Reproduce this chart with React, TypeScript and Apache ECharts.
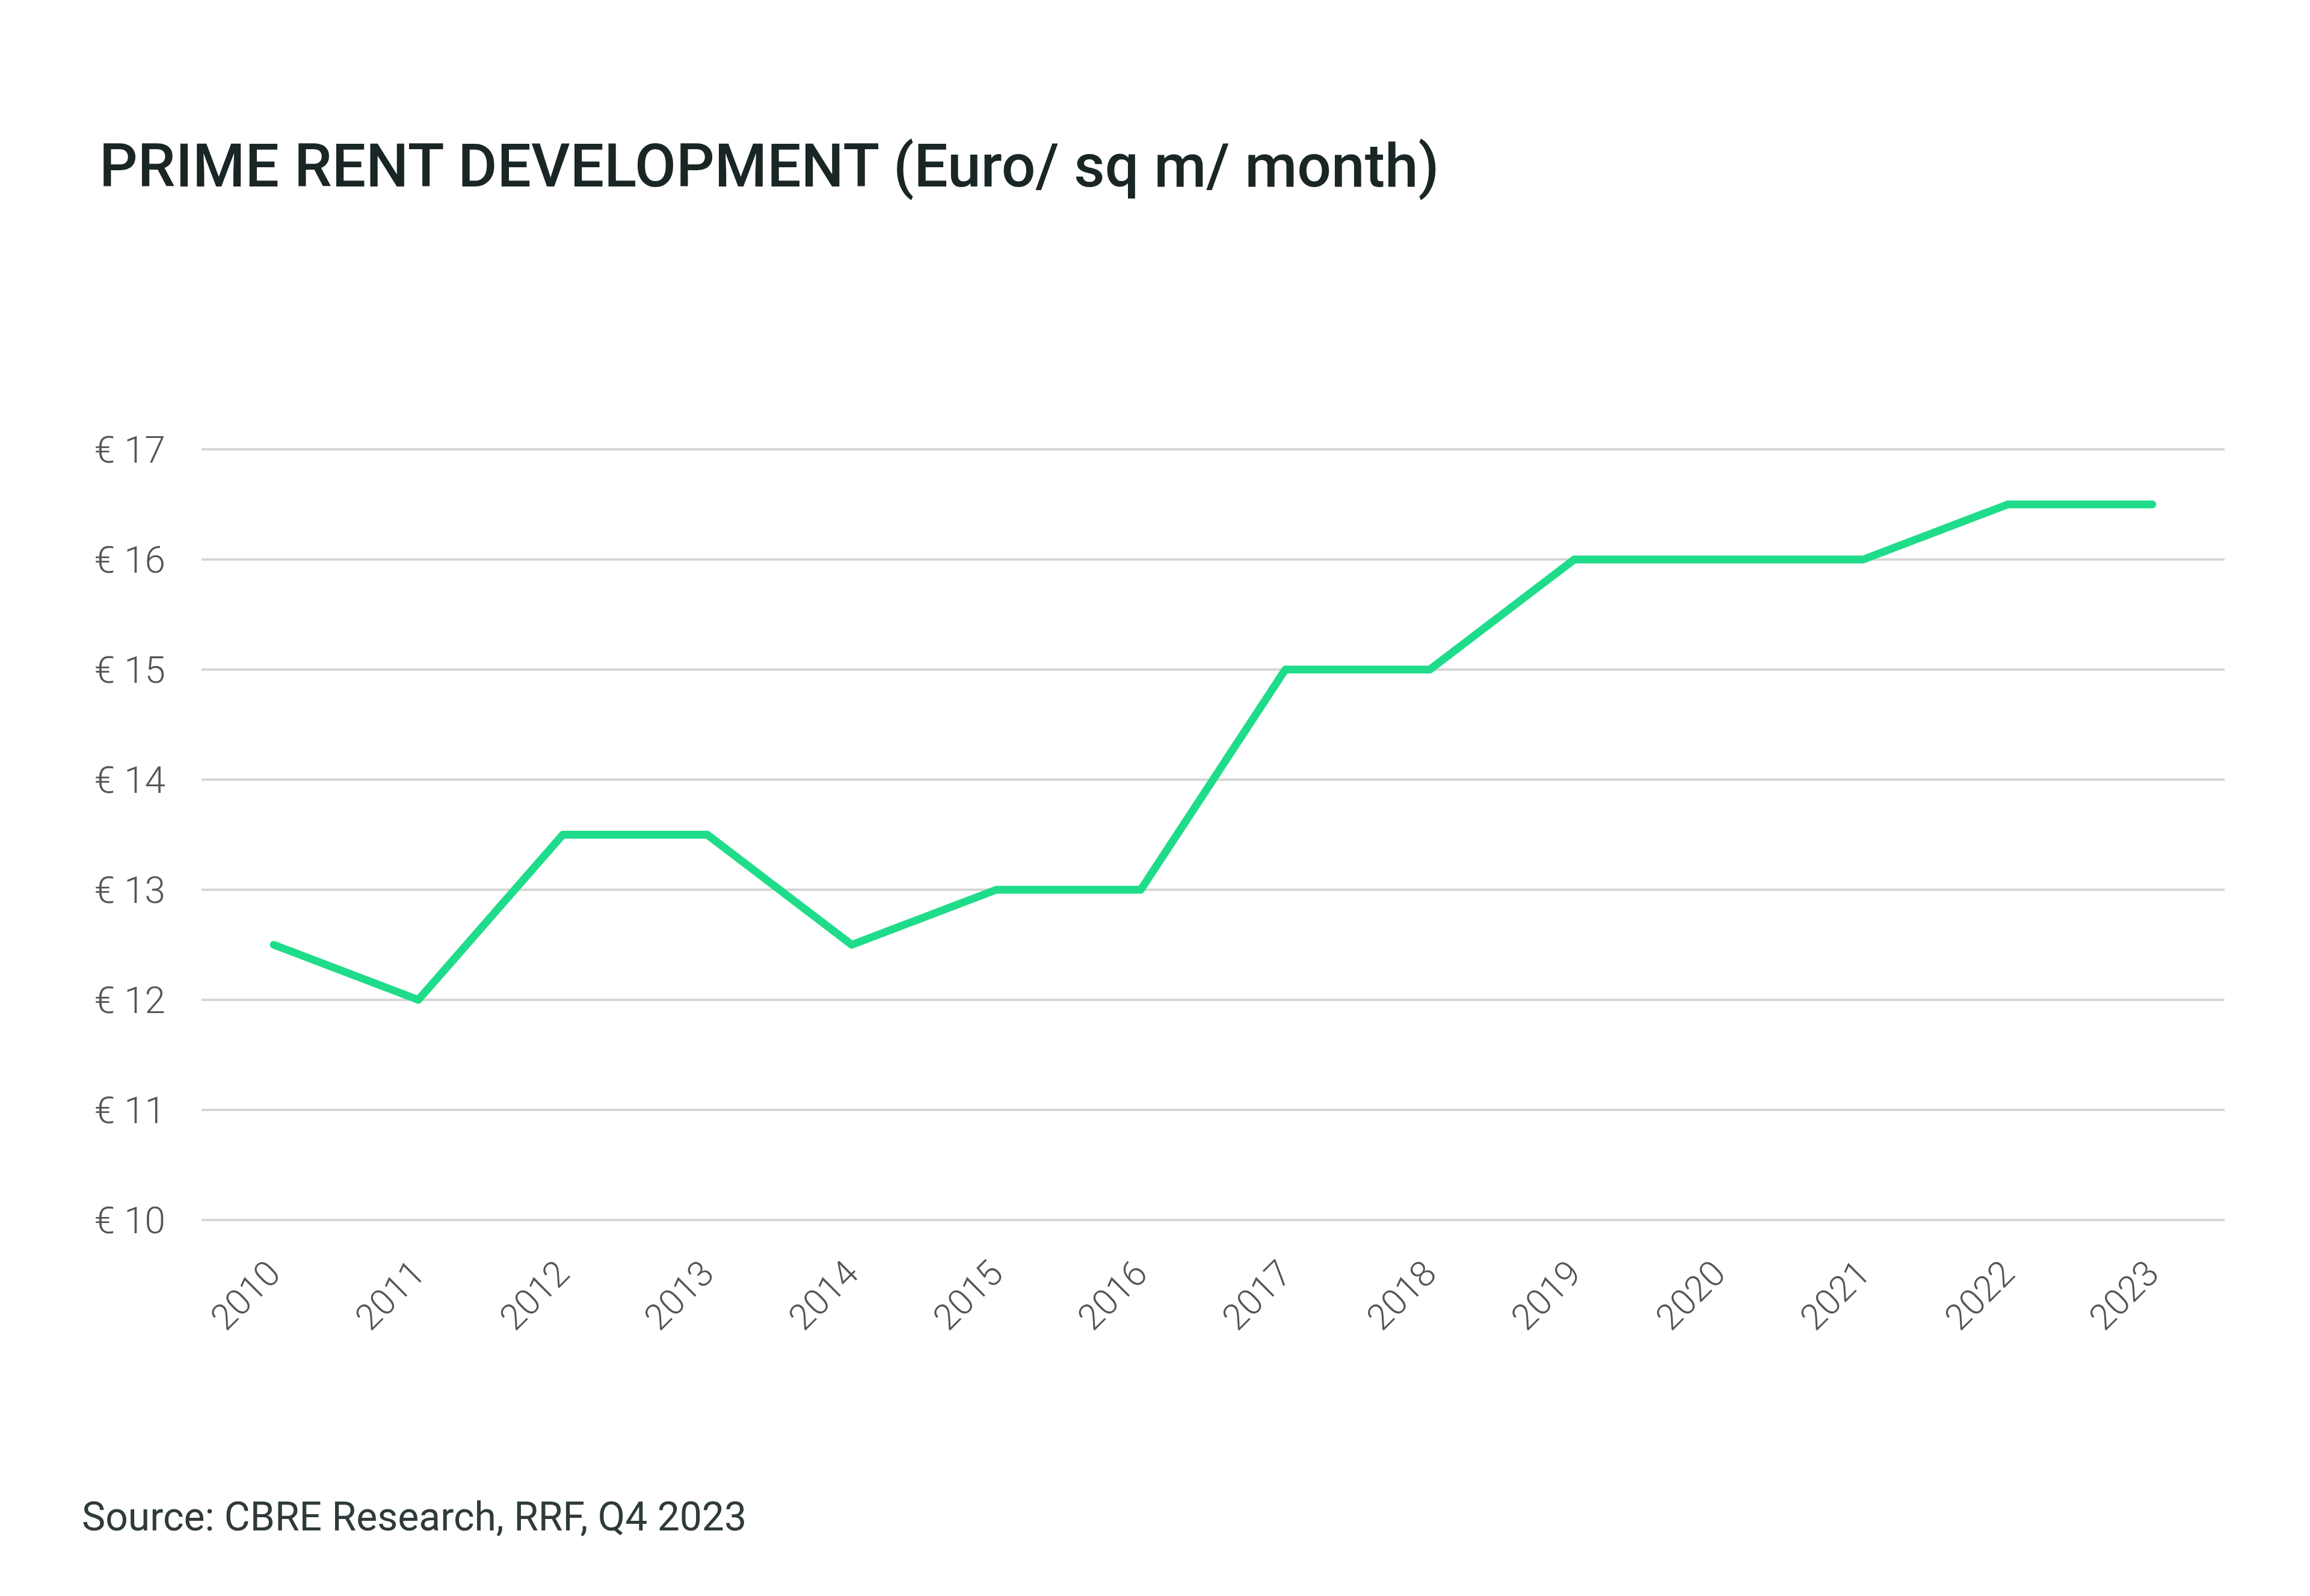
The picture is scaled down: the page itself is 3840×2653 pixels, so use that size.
import React, { useEffect, useRef } from "react";
import * as echarts from "echarts";

const years = ["2010","2011","2012","2013","2014","2015","2016","2017","2018","2019","2020","2021","2022","2023"];
const primeRent = [12.5, 12.0, 13.5, 13.5, 12.5, 13.0, 13.0, 15.0, 15.0, 16.0, 16.0, 16.0, 16.5, 16.5];
const titleText = "PRIME RENT DEVELOPMENT (Euro/ sq m/ month)";
const sourceText = "Source: CBRE Research, RRF, Q4 2023";

export default function App() {
  const ref = useRef<HTMLDivElement>(null);
  useEffect(() => {
    if (!ref.current) return;
    const chart = echarts.init(ref.current, null, { renderer: "svg" });
    chart.setOption({
      animation: false,
      backgroundColor: "#ffffff",
      textStyle: { fontFamily: "Roboto" },
      title: {
        text: titleText,
        left: 160,
        top: 220,
        textStyle: { fontFamily: "Roboto", fontSize: 100, fontWeight: 500, color: "#1a2626" },
      },
      graphic: [
        {
          type: "text",
          left: 136,
          top: 2488,
          style: { text: sourceText, fontFamily: "Roboto", fontSize: 66, fontWeight: 400, fill: "#2f3a3a" },
        },
      ],
      grid: { left: 335, right: 142, top: 747, bottom: 625, containLabel: false },
      xAxis: {
        type: "category",
        data: years,
        boundaryGap: true,
        axisLine: { show: false },
        axisTick: { show: false },
        axisLabel: {
          rotate: 45,
          margin: 78,
          fontFamily: "Roboto",
          fontWeight: 300,
          fontSize: 60,
          color: "#555555",
        },
      },
      yAxis: {
        type: "value",
        min: 10,
        max: 17,
        interval: 1,
        axisLine: { show: false },
        axisTick: { show: false },
        splitLine: { lineStyle: { color: "#d6d6d6", width: 4 } },
        axisLabel: {
          margin: 60,
          fontFamily: "Roboto",
          fontWeight: 300,
          fontSize: 62,
          color: "#555555",
          formatter: (v: number) => "€ " + v,
        },
      },
      series: [
        {
          type: "line",
          data: primeRent,
          symbol: "none",
          lineStyle: { color: "#1fdc8a", width: 13, cap: "round", join: "round" },
        },
      ],
    });
    return () => chart.dispose();
  }, []);
  return <div ref={ref} style={{ position: "fixed", left: 0, top: 0, width: 3840, height: 2653 }} />;
}
